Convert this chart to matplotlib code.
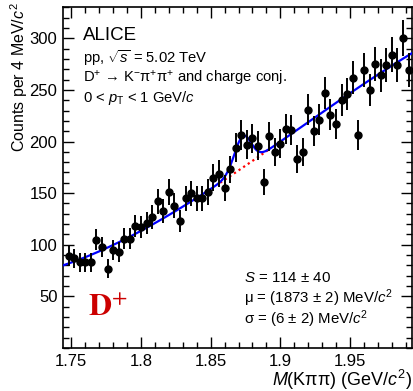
import numpy as np
import matplotlib
matplotlib.use('Agg')
import matplotlib.pyplot as plt
from matplotlib.ticker import MultipleLocator, FixedLocator, FixedFormatter

plt.rcParams['font.family'] = ['Liberation Sans', 'DejaVu Sans']
plt.rcParams['mathtext.fontset'] = 'custom'
plt.rcParams['mathtext.rm'] = 'Liberation Sans'
plt.rcParams['mathtext.it'] = 'Liberation Sans:italic'
plt.rcParams['mathtext.bf'] = 'Liberation Sans:bold'

# invariant mass bin centres (GeV/c^2), 4 MeV bins
mass = 1.748 + 0.004 * np.arange(62)
counts = [89, 87, 83, 83, 83, 105, 98, 77, 95, 93,
          106, 106, 118, 117, 121, 127, 142, 133, 151, 138,
          123, 145, 150, 145, 145, 151, 165, 169, 155, 173,
          194, 206, 197, 203, 196, 161, 205, 190, 198, 212,
          211, 183, 190, 231, 210, 221, 247, 226, 217, 240,
          246, 262, 206, 269, 250, 275, 264, 274, 284, 274,
          300, 269]
errors = [9.4, 9.3, 9.1, 9.1, 9.1, 10.2, 9.9, 8.8, 9.7, 9.6,
          10.3, 10.3, 10.9, 10.8, 11.0, 11.3, 11.9, 11.5, 12.3, 11.7,
          11.1, 12.0, 12.2, 12.0, 12.0, 12.3, 12.8, 13.0, 12.4, 13.2,
          13.9, 14.4, 14.0, 14.2, 14.0, 12.7, 14.3, 13.8, 14.1, 14.6,
          14.5, 13.5, 13.8, 15.2, 14.5, 14.9, 15.7, 15.0, 14.7, 15.5,
          15.7, 16.2, 14.4, 16.4, 15.8, 16.6, 16.2, 16.6, 16.9, 16.6,
          17.3, 16.4]

# fit results shown on the plot
S = 114.0
mu = 1.873
sigma = 0.006
bin_width = 0.004
bkg_coef = [80.0, 450.6, 2970.0, -5957.0]   # cubic background in (m - 1.744)

xticks = [1.75, 1.8, 1.85, 1.9, 1.95]
xtick_labels = ['1.75', '1.8', '1.85', '1.9', '1.95']
yticks = [50, 100, 150, 200, 250, 300]


def background(m):
    t = m - 1.744
    return bkg_coef[0] + bkg_coef[1] * t + bkg_coef[2] * t**2 + bkg_coef[3] * t**3


def total_fit(m):
    amp = S * bin_width / (np.sqrt(2 * np.pi) * sigma)
    return background(m) + amp * np.exp(-0.5 * ((m - mu) / sigma) ** 2)


fig = plt.figure(figsize=(4.14, 3.91), dpi=100)
ax = fig.add_axes([63 / 414, 43 / 391, 349 / 414, 340.7 / 391])

m_all = np.linspace(1.744, 1.9945, 1200)
m_sig = np.linspace(mu - 2.7 * sigma, mu + 3 * sigma, 100)
ax.plot(m_sig, background(m_sig), color='red', ls=(0, (1, 1.5)), lw=1.6, zorder=2)
ax.plot(m_all, total_fit(m_all), color='#0000ff', lw=1.6, zorder=3)
ax.errorbar(mass, counts, yerr=errors, fmt='o', color='black', ms=5,
            elinewidth=1.4, capsize=0, zorder=4)

ax.set_xlim(1.744, 1.9945)
ax.set_ylim(0, 330)
ax.xaxis.set_major_locator(FixedLocator(xticks))
ax.xaxis.set_major_formatter(FixedFormatter(xtick_labels))
ax.xaxis.set_minor_locator(MultipleLocator(0.01))
ax.yaxis.set_major_locator(FixedLocator(yticks))
ax.yaxis.set_minor_locator(MultipleLocator(10))
ax.tick_params(which='both', direction='in', top=True, right=True, width=1.0,
               labelsize=12, pad=4)
ax.tick_params(which='major', length=8)
ax.tick_params(which='minor', length=4)
for s in ax.spines.values():
    s.set_linewidth(1.2)

ax.set_ylabel('Counts per 4 MeV/$c^{2}$', fontsize=11.5, loc='top')
ax.yaxis.set_label_coords(-0.095, 1.015)
ax.set_xlabel('$M$(Kππ) (GeV/$c^{2}$)', fontsize=13, loc='right')
ax.xaxis.set_label_coords(1.0, -0.058)

ax.text(0.058, 0.917, 'ALICE', fontsize=13.5, va='center', transform=ax.transAxes)
ax.text(0.058, 0.850, r'pp, $\sqrt{s}$ = 5.02 TeV', fontsize=10.6, va='center',
        transform=ax.transAxes)
ax.text(0.058, 0.791, 'D$^{+}$ → K$^{-}$π$^{+}$π$^{+}$ and charge conj.', fontsize=10.6,
        va='center', transform=ax.transAxes)
ax.text(0.058, 0.734, r'0 < $p_{\rm T}$ < 1 GeV/$c$', fontsize=10.6, va='center',
        transform=ax.transAxes)

ax.text(0.072, 0.117, r'$\mathbf{D}^{+}$', fontsize=23, color='#cc0000', va='center',
        math_fontfamily='stix', transform=ax.transAxes)

ax.text(0.52, 0.204, '$S$ = 114 ± 40', fontsize=10.8, va='center', transform=ax.transAxes)
ax.text(0.52, 0.145, 'μ = (1873 ± 2) MeV/$c^{2}$', fontsize=10.8, va='center',
        transform=ax.transAxes)
ax.text(0.52, 0.085, 'σ = (6 ± 2) MeV/$c^{2}$', fontsize=10.8, va='center',
        transform=ax.transAxes)

fig.savefig('out.png', dpi=100)
